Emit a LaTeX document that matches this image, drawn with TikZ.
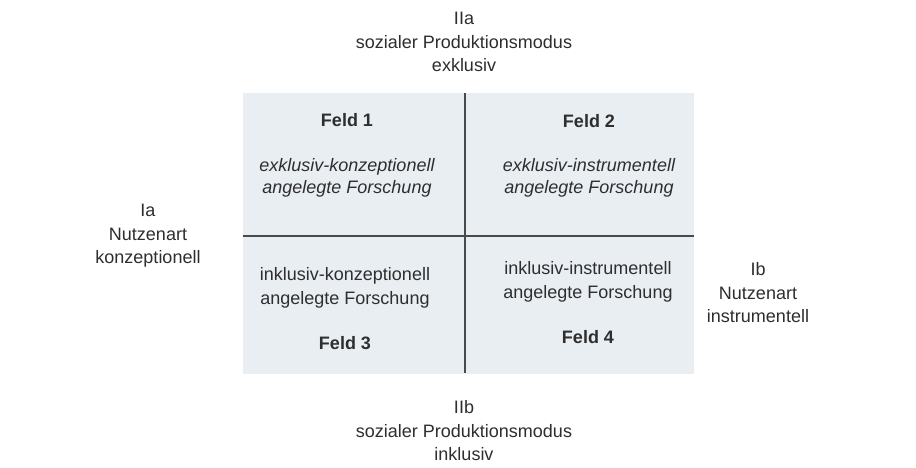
\documentclass[tikz,border=0pt]{standalone}
\usepackage{fontspec}
\setmainfont{Liberation Sans}
\definecolor{txt}{HTML}{2E2E2E}
\definecolor{panel}{HTML}{E9EEF3}
\definecolor{axis}{HTML}{4A4A4A}
\begin{document}
\begin{tikzpicture}[x=1pt,y=-1pt,
  lbl/.style={inner sep=0pt,align=center,text=txt,font=\fontsize{18}{23.5}\selectfont},
  feld/.style={lbl,font=\fontsize{18}{23.5}\selectfont\bfseries},
  quad/.style={lbl},
  quadit/.style={lbl,font=\fontsize{18}{22}\selectfont\itshape},
  axisline/.style={draw=axis,line width=1.8pt}]
\useasboundingbox[fill=white] (0,0) rectangle (916,467);
\fill[panel] (243,93) rectangle (694,374);
\coordinate (vt) at (465,93);
\coordinate (vb) at (465,373);
\coordinate (hl) at (243,236);
\coordinate (hr) at (694,236);
\draw[axisline] (vt) -- (vb);
\draw[axisline] (hl) -- (hr);
\node[lbl] (top) at (464,42) {IIa\\sozialer Produktionsmodus\\exklusiv};
\node[lbl] (bot) at (464,431) {IIb\\sozialer Produktionsmodus\\inklusiv};
\node[lbl] (left) at (148,236) {Ia\\Nutzenart\\konzeptionell};
\node[lbl] (right) at (758,293) {Ib\\Nutzenart\\instrumentell};
\node[feld] (f1) at (347,120) {Feld 1};
\node[feld] (f2) at (589,121) {Feld 2};
\node[feld] (f3) at (345,343) {Feld 3};
\node[feld] (f4) at (588,337) {Feld 4};
\node[quadit] (q1) at (347,178) {exklusiv-konzeptionell\\angelegte Forschung};
\node[quadit] (q2) at (589,178) {exklusiv-instrumentell\\angelegte Forschung};
\node[quad] (q3) at (345,288) {inklusiv-konzeptionell\\angelegte Forschung};
\node[quad] (q4) at (588,282) {inklusiv-instrumentell\\angelegte Forschung};
\end{tikzpicture}
\end{document}
